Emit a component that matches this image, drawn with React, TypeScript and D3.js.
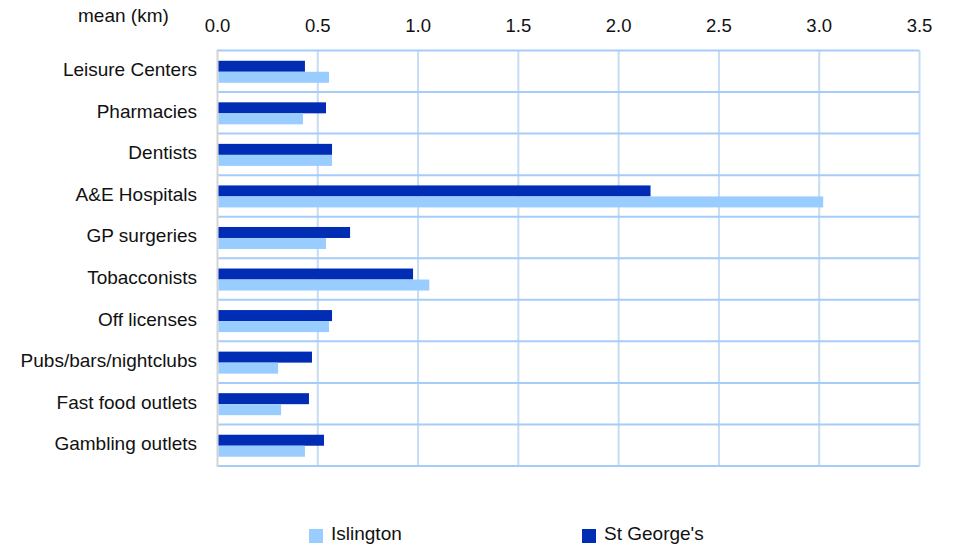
import React from "react";
import * as d3 from "d3";

const categories = [
  "Leisure Centers",
  "Pharmacies",
  "Dentists",
  "A&E Hospitals",
  "GP surgeries",
  "Tobacconists",
  "Off licenses",
  "Pubs/bars/nightclubs",
  "Fast food outlets",
  "Gambling outlets",
];
const stGeorges = [0.436, 0.541, 0.571, 2.159, 0.661, 0.975, 0.571, 0.471, 0.456, 0.531];
const islington = [0.556, 0.426, 0.571, 3.02, 0.541, 1.056, 0.556, 0.302, 0.317, 0.436];
const xTicks = [0, 0.5, 1.0, 1.5, 2.0, 2.5, 3.0, 3.5];

const W = 955;
const H = 544;
const left = 217.5;
const right = 919.5;
const top = 50.5;
const bottom = 466;
const DARK = "#002db3";
const LIGHT = "#99ccff";
const FONT = "'Liberation Sans', Arial, sans-serif";
const FS = 19;

export default function App() {
  const x = d3.scaleLinear().domain([0, 3.5]).range([left, right]);
  const y = d3.scaleBand<string>().domain(categories).range([top, bottom]);
  const bh = 11;
  return (
    <svg width={W} height={H} style={{ position: "absolute", left: 0, top: 0 }} fontFamily={FONT}>
      {xTicks.slice(1).map((t) => (
        <line key={"v" + t} x1={x(t)} x2={x(t)} y1={top} y2={bottom} stroke="#c6dcf5" strokeWidth={2} />
      ))}
      {categories.map((c) => (
        <line key={"h" + c} x1={left} x2={right} y1={y(c)!} y2={y(c)!} stroke="#a6cdf7" strokeWidth={2} />
      ))}
      <line x1={left} x2={right} y1={bottom} y2={bottom} stroke="#a6cdf7" strokeWidth={2} />
      <line x1={left} x2={left} y1={top - 1} y2={bottom + 1} stroke="#d4d4d4" strokeWidth={2} />
      {categories.map((c, i) => {
        const y0 = y(c)! + y.bandwidth() / 2 - bh + 0.5;
        return (
          <g key={"b" + c}>
            <rect x={x(0) + 1} y={y0} width={x(stGeorges[i]) - x(0) - 1} height={bh} fill={DARK} />
            <rect x={x(0) + 1} y={y0 + bh} width={x(islington[i]) - x(0) - 1} height={bh} fill={LIGHT} />
            <text x={197} y={y(c)! + y.bandwidth() / 2 + 5} textAnchor="end" fontSize={FS} fill="#111">
              {c}
            </text>
          </g>
        );
      })}
      {xTicks.map((t) => (
        <text key={"t" + t} x={x(t)} y={31.5} textAnchor="middle" fontSize={18.5} fill="#111">
          {t.toFixed(1)}
        </text>
      ))}
      <text x={78} y={22} fontSize={FS} fill="#111">mean (km)</text>
      <rect x={309} y={529} width={14} height={14} fill={LIGHT} />
      <text x={331} y={540} fontSize={FS} fill="#111">Islington</text>
      <rect x={582} y={529} width={14} height={14} fill={DARK} />
      <text x={604} y={540} fontSize={FS} fill="#111">St George's</text>
    </svg>
  );
}
